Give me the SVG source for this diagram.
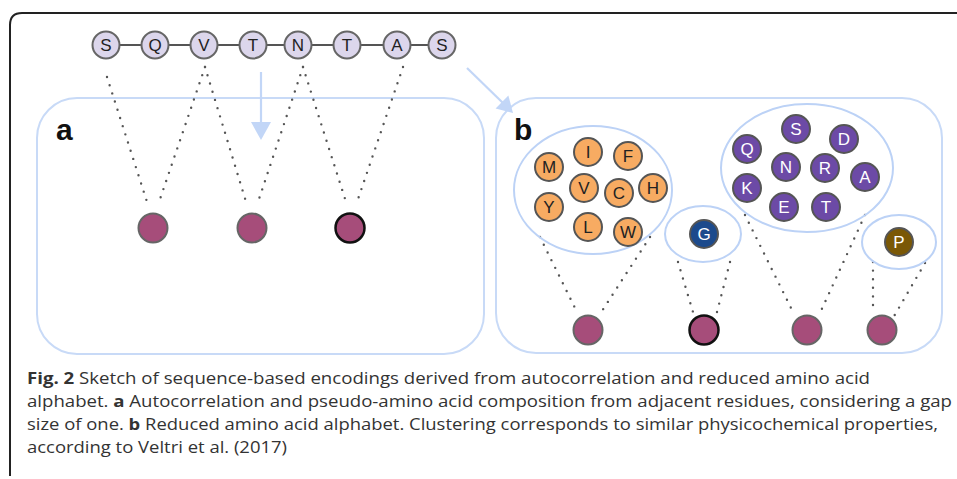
<svg xmlns="http://www.w3.org/2000/svg" width="957" height="479" viewBox="0 0 957 479">
<defs>
<style>
.panel{fill:none;stroke:#c8daf7;stroke-width:2}
.clu{fill:none;stroke:#bcd2f6;stroke-width:2}
.seq{fill:#dcd6ec;stroke:#666;stroke-width:2}
.out{fill:#a64d7a;stroke:#666;stroke-width:2}
.outk{fill:#a64d7a;stroke:#111;stroke-width:2.5}
.org{fill:#f7ab62;stroke:#555;stroke-width:2}
.pur{fill:#6c4aa6;stroke:#555;stroke-width:2}
.dot{fill:none;stroke:#555;stroke-width:2.4;stroke-linecap:round;stroke-dasharray:0 8.6}
.lt{font-family:"Liberation Sans",Arial,sans-serif;font-size:17px;text-anchor:middle;fill:#222}
.wt{font-family:"Liberation Sans",Arial,sans-serif;font-size:17px;text-anchor:middle;fill:#fff}
.lab{font-family:"Liberation Sans",Arial,sans-serif;font-size:30px;font-weight:bold;fill:#111}
.cap{font-family:"Open Sans","Liberation Sans",sans-serif;font-size:16px;fill:#333}
.bf{font-weight:bold}
.arr{stroke:#c2d6f7;stroke-width:2.2;fill:none}
.ah{fill:#c2d6f7}
</style>
</defs>
<path d="M10 476 V25 Q10 13 22 13 H957" fill="none" stroke="#222" stroke-width="2"/>

<g id="panel-a">
<rect class="panel" x="37" y="98" width="447" height="256" rx="40"/>
<text class="lab" x="56" y="140">a</text>
</g>
<g id="panel-b">
<rect class="panel" x="496" y="98" width="446" height="255" rx="40"/>
<text class="lab" x="514" y="140">b</text>
</g>

<g id="connectors">
<line x1="106" y1="45" x2="442" y2="45" stroke="#555" stroke-width="2"/>
<line class="dot" x1="107" y1="77" x2="148" y2="205"/>
<line class="dot" x1="205" y1="67" x2="158" y2="205"/>
<line class="dot" x1="205" y1="67" x2="247" y2="205"/>
<line class="dot" x1="303" y1="67" x2="257" y2="205"/>
<line class="dot" x1="303" y1="67" x2="347" y2="205"/>
<line class="dot" x1="403" y1="67" x2="356" y2="205"/>
<line class="arr" x1="261" y1="72" x2="261" y2="124"/>
<polygon class="ah" points="251,122 271,122 261,140"/>
<line class="arr" x1="467" y1="68" x2="503" y2="103"/>
<polygon class="ah" points="495.6,108.4 508.4,95.6 513,113"/>
<line class="dot" x1="540" y1="237" x2="576" y2="310"/>
<line class="dot" x1="650" y1="237" x2="600" y2="314"/>
<line class="dot" x1="678" y1="262" x2="693" y2="312"/>
<line class="dot" x1="730" y1="262" x2="717" y2="312"/>
<line class="dot" x1="745" y1="215" x2="792" y2="310"/>
<line class="dot" x1="865" y1="215" x2="820" y2="313"/>
<line class="dot" x1="873" y1="262" x2="873" y2="313"/>
<line class="dot" x1="925" y1="263" x2="893" y2="318"/>
</g>

<g id="sequence">
<circle class="seq" cx="106" cy="45" r="13.5"/><text class="lt" x="106" y="51">S</text>
<circle class="seq" cx="155" cy="45" r="13.5"/><text class="lt" x="155" y="51">Q</text>
<circle class="seq" cx="204" cy="45" r="13.5"/><text class="lt" x="204" y="51">V</text>
<circle class="seq" cx="253" cy="45" r="13.5"/><text class="lt" x="253" y="51">T</text>
<circle class="seq" cx="298" cy="45" r="13.5"/><text class="lt" x="298" y="51">N</text>
<circle class="seq" cx="347" cy="45" r="13.5"/><text class="lt" x="347" y="51">T</text>
<circle class="seq" cx="397" cy="45" r="13.5"/><text class="lt" x="397" y="51">A</text>
<circle class="seq" cx="442" cy="45" r="13.5"/><text class="lt" x="442" y="51">S</text>
</g>

<g id="a-outputs">
<circle class="out" cx="153" cy="228" r="14.5"/>
<circle class="out" cx="252" cy="228" r="14.5"/>
<circle class="outk" cx="350" cy="228" r="14.5"/>
</g>

<g id="cluster-hydrophobic">
<ellipse class="clu" cx="593" cy="190" rx="79" ry="64"/>
<circle class="org" cx="549" cy="167" r="14"/><text class="lt" x="549" y="173">M</text>
<circle class="org" cx="588" cy="152" r="14"/><text class="lt" x="588" y="158">I</text>
<circle class="org" cx="628" cy="156" r="14"/><text class="lt" x="628" y="162">F</text>
<circle class="org" cx="584" cy="188" r="14"/><text class="lt" x="584" y="194">V</text>
<circle class="org" cx="619" cy="193" r="14"/><text class="lt" x="619" y="199">C</text>
<circle class="org" cx="653" cy="188" r="14"/><text class="lt" x="653" y="194">H</text>
<circle class="org" cx="549" cy="207" r="14"/><text class="lt" x="549" y="213">Y</text>
<circle class="org" cx="588" cy="227" r="14"/><text class="lt" x="588" y="233">L</text>
<circle class="org" cx="628" cy="232" r="14"/><text class="lt" x="628" y="238">W</text>
</g>

<g id="cluster-G">
<ellipse class="clu" cx="703" cy="234" rx="38" ry="28"/>
<circle cx="704" cy="234" r="14" fill="#1c4a8c" stroke="#555" stroke-width="2"/><text class="wt" x="704" y="240">G</text>
</g>

<g id="cluster-polar">
<ellipse class="clu" cx="807" cy="168" rx="86" ry="64"/>
<circle class="pur" cx="796" cy="129" r="14"/><text class="wt" x="796" y="135">S</text>
<circle class="pur" cx="844" cy="139" r="14"/><text class="wt" x="844" y="145">D</text>
<circle class="pur" cx="747" cy="149" r="14"/><text class="wt" x="747" y="155">Q</text>
<circle class="pur" cx="786" cy="167" r="14"/><text class="wt" x="786" y="173">N</text>
<circle class="pur" cx="825" cy="168" r="14"/><text class="wt" x="825" y="174">R</text>
<circle class="pur" cx="865" cy="177" r="14"/><text class="wt" x="865" y="183">A</text>
<circle class="pur" cx="747" cy="188" r="14"/><text class="wt" x="747" y="194">K</text>
<circle class="pur" cx="784" cy="207" r="14"/><text class="wt" x="784" y="213">E</text>
<circle class="pur" cx="826" cy="207" r="14"/><text class="wt" x="826" y="213">T</text>
</g>

<g id="cluster-P">
<ellipse class="clu" cx="899" cy="242" rx="37" ry="27"/>
<circle cx="899" cy="242" r="14" fill="#7a5806" stroke="#555" stroke-width="2"/><text class="wt" x="899" y="248">P</text>
</g>

<g id="b-outputs">
<circle class="out" cx="588" cy="330" r="14.5"/>
<circle class="outk" cx="704" cy="330" r="14.5"/>
<circle class="out" cx="807" cy="330" r="14.5"/>
<circle class="out" cx="882" cy="330" r="14.5"/>
</g>

<g id="caption">
<text class="cap" x="27" y="384" textLength="843" lengthAdjust="spacingAndGlyphs"><tspan class="bf">Fig. 2</tspan> Sketch of sequence-based encodings derived from autocorrelation and reduced amino acid</text>
<text class="cap" x="27" y="407" textLength="925" lengthAdjust="spacingAndGlyphs">alphabet. <tspan class="bf">a</tspan> Autocorrelation and pseudo-amino acid composition from adjacent residues, considering a gap</text>
<text class="cap" x="27" y="430" textLength="911" lengthAdjust="spacingAndGlyphs">size of one. <tspan class="bf">b</tspan> Reduced amino acid alphabet. Clustering corresponds to similar physicochemical properties,</text>
<text class="cap" x="27" y="453" textLength="260" lengthAdjust="spacingAndGlyphs">according to Veltri et al. (2017)</text>
</g>
</svg>
